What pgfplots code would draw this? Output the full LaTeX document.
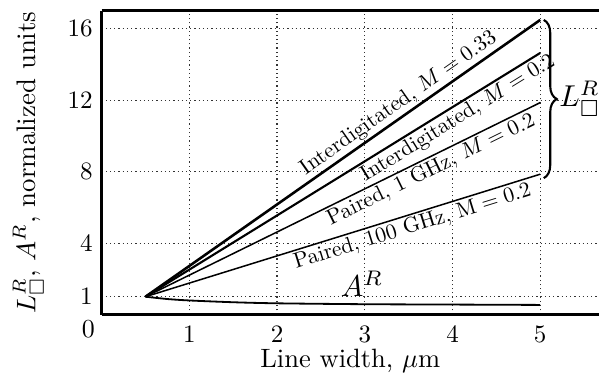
\documentclass[border=0pt]{standalone}
\usepackage{amssymb}
\usepackage{pgfplots}
\pgfplotsset{compat=1.18}
\usetikzlibrary{decorations.pathreplacing}
\begin{document}
\begin{tikzpicture}
\begin{axis}[
  scale only axis,
  width=165pt, height=100.7pt,
  xmin=0, xmax=5.67, ymin=0, ymax=17,
  axis x line*=box, axis y line*=left,
  axis line style={line width=1pt},
  xtick={1,2,3,4,5}, ytick={1,4,8,12,16},
  major tick length=0pt,
  grid=major,
  grid style={densely dotted, black!80, line width=0.4pt},
  tick label style={scale=0.83},
  xticklabel style={yshift=-1pt},
  clip=false,
]
\addplot[black, line width=0.85pt] coordinates {(0.5,1) (5,16.5)}
  node[pos=0.66, sloped, above, inner sep=1pt, scale=0.72] {Interdigitated, $M=0.33$};
\addplot[black, line width=0.7pt] coordinates {(0.5,1) (5,14.65)}
  node[pos=0.775, sloped, below, inner sep=1pt, scale=0.72] {Interdigitated, $M=0.2$};
\addplot[black, line width=0.5pt] coordinates {(0.5,1) (5,11.87)}
  node[pos=0.71, sloped, below, inner sep=1pt, scale=0.72] {Paired, 1 GHz, $M=0.2$};
\addplot[black, line width=0.5pt] coordinates {(0.5,1) (5,7.86)}
  node[pos=0.667, sloped, below, inner sep=1pt, scale=0.72] {Paired, 100 GHz, M${}=0.2$};
\addplot[black, line width=0.6pt, smooth] coordinates {(0.5,1) (0.75,0.87) (1,0.79) (1.5,0.69) (2,0.63) (3,0.58) (4,0.56) (5,0.54)};
\node[anchor=base west, inner sep=0pt] at (axis cs:2.72,1.02) {$A^R$};
\draw[line width=0.7pt, decorate, decoration={brace, amplitude=4.3pt}] (axis cs:5.04,16.5) -- (axis cs:5.04,7.64)
  node[midway, right=4.8pt, inner sep=0pt] {$L^R_\square$};
\node[anchor=east, inner sep=2.4pt, scale=0.86] at ([yshift=-5pt]rel axis cs:0,0) {0};
\node[anchor=base, inner sep=0pt, scale=0.88] at ([yshift=-17.6pt]rel axis cs:0.5,0) {Line width, $\mu$m};
\node[anchor=base, inner sep=0pt, rotate=90, scale=0.89] at ([xshift=-22pt]rel axis cs:0,0.5) {$L^R_\square$, $A^R$, normalized units};
\coordinate (bl) at (rel axis cs:0,0);
\coordinate (tr) at (rel axis cs:1,1);
\end{axis}
\pgfresetboundingbox
\path[use as bounding box] ([xshift=-33.7pt, yshift=-19.9pt]bl) rectangle ([yshift=3.65pt]tr);
\end{tikzpicture}
\end{document}
